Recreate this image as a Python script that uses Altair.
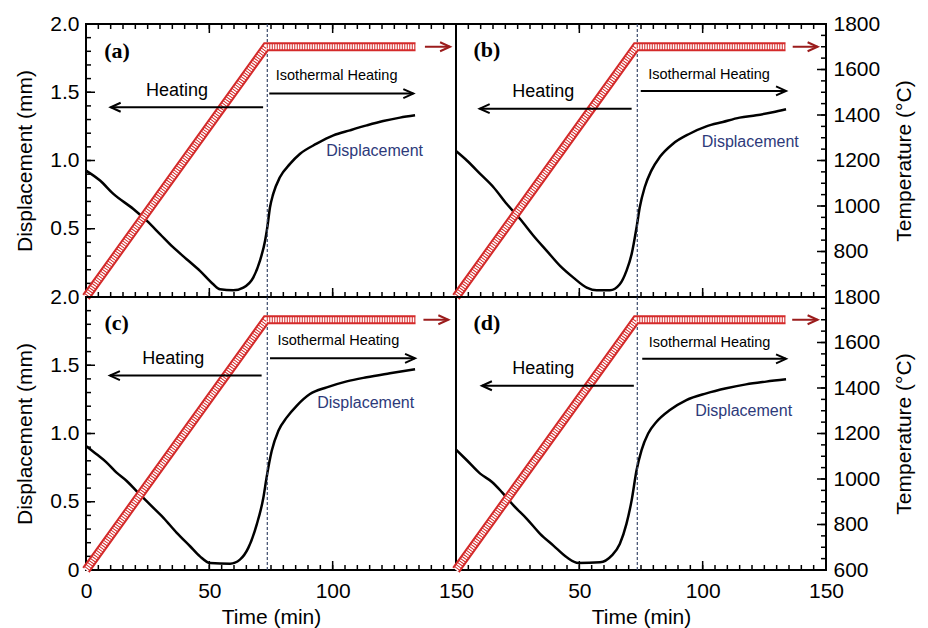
import altair as alt
import pandas as pd

# ---------------- data ----------------
# displacement curves: time (min) / displacement (mm)
TIME_A = [0, 5.7, 11.1, 19.2, 24.6, 30.0, 35.4, 40.8, 46.2, 51.6, 54.3, 59.7, 63.8, 67.8, 70.5,
          72.6, 73.5, 74.6, 75.9, 78.6, 82.7, 86.8, 93.5, 100.3, 107.0, 113.8, 120.5, 127.3, 133.4]
DISP_A = [0.926, 0.853, 0.755, 0.645, 0.559, 0.461, 0.363, 0.277, 0.191, 0.093, 0.056, 0.049, 0.069,
          0.142, 0.265, 0.412, 0.510, 0.657, 0.755, 0.877, 0.975, 1.049, 1.123, 1.184, 1.221, 1.257,
          1.289, 1.314, 1.331]

TIME_B = [0, 4.4, 9.8, 15.2, 20.6, 26.0, 31.4, 36.8, 42.2, 47.6, 53.0, 57.0, 62.4, 66.4, 69.1, 71.2,
          73.2, 74.5, 76.5, 79.2, 82.6, 88.0, 94.7, 101.5, 108.2, 115.0, 121.7, 128.4, 133.8]
DISP_B = [1.069, 1.0, 0.902, 0.804, 0.681, 0.571, 0.449, 0.338, 0.228, 0.142, 0.069, 0.049, 0.049,
          0.093, 0.191, 0.314, 0.510, 0.657, 0.804, 0.926, 1.025, 1.123, 1.196, 1.250, 1.282, 1.314,
          1.331, 1.353, 1.375]

TIME_C = [0, 4.3, 8.4, 12.4, 16.5, 20.5, 25.9, 31.4, 36.8, 42.2, 46.2, 50.3, 58.4, 62.4, 65.8, 69.2,
          71.9, 73.2, 75.3, 78.0, 81.4, 85.4, 90.8, 97.6, 105.7, 113.8, 123.2, 133.4]
DISP_C = [0.909, 0.848, 0.787, 0.713, 0.652, 0.578, 0.480, 0.382, 0.272, 0.174, 0.100, 0.051, 0.046,
          0.076, 0.162, 0.333, 0.529, 0.676, 0.873, 1.020, 1.118, 1.203, 1.289, 1.338, 1.382, 1.412,
          1.441, 1.471]

TIME_D = [0, 4.4, 9.8, 14.6, 18.6, 23.3, 28.7, 34.1, 39.5, 44.9, 49.6, 58.4, 63.1, 66.4, 69.1, 71.2,
          73.2, 75.2, 77.9, 81.3, 86.7, 93.4, 101.5, 109.6, 117.6, 125.7, 133.8]
DISP_D = [0.882, 0.804, 0.706, 0.645, 0.571, 0.473, 0.375, 0.265, 0.179, 0.093, 0.051, 0.056, 0.105,
          0.191, 0.338, 0.510, 0.730, 0.877, 1.000, 1.086, 1.172, 1.245, 1.294, 1.331, 1.360, 1.380,
          1.397]

# temperature programme: time (min) / temperature (degC)
TEMP_TIME = [0, 73.0, 133.6]
TEMP_VALUE = [600, 1700, 1700]
HOLD_START = 73.5

TIMES = [TIME_A, TIME_B, TIME_C, TIME_D]
DISPS = [DISP_A, DISP_B, DISP_C, DISP_D]
TAGS = ["(a)", "(b)", "(c)", "(d)"]

# annotation anchors (data coordinates) per panel a, b, c, d
TAG_T = [12.6, 12.5, 12.4, 12.5]
TAG_D = [1.80, 1.81, 1.81, 1.81]
HEAT_T = [36.9, 35.4, 35.4, 35.4]
HEAT_D = [1.51, 1.50, 1.547, 1.473]
ISO_T = [101.6, 102.6, 102.3, 102.8]
ISO_D = [1.62, 1.625, 1.68, 1.66]
DTXT_T = [117.0, 119.3, 113.4, 116.6]
DTXT_D = [1.07, 1.135, 1.22, 1.167]
HEAT_ARROW_FROM = [71.8, 71.2, 71.2, 72.1]
HEAT_ARROW_TO = [10.0, 9.6, 9.7, 10.5]
HEAT_ARROW_D = [1.39, 1.38, 1.424, 1.35]
ISO_ARROW_FROM = [74.3, 74.9, 74.6, 75.5]
ISO_ARROW_TO = [132.7, 133.8, 133.4, 133.8]
ISO_ARROW_D = [1.49, 1.51, 1.551, 1.547]
RED_ARROW_FROM = [137.4, 136.5, 136.8, 136.3]
RED_ARROW_TO = [147.6, 146.6, 146.9, 146.6]

X_MAJOR = [0, 50, 100, 150]
X_MINOR = list(range(0, 151, 5))
D_MAJOR = [0, 0.5, 1.0, 1.5, 2.0]
D_MINOR = [i / 10 for i in range(0, 21)]
T_MAJOR = [600, 800, 1000, 1200, 1400, 1600, 1800]
T_MINOR = list(range(600, 1801, 50))

# ---------------- styling ----------------
W, H = 370, 273
FONT = "Liberation Sans"
RED = "#d42a2a"
DARK_RED = "#9b1c1c"
NAVY = "#2d3a7a"
DASH = "#3b4a6b"
MAJ, MIN = 9, 5
LABEL_SIZE = 21
TITLE_SIZE = 21


def xs():
    return alt.Scale(domain=[0, 150], nice=False, zero=False)


def ds():
    return alt.Scale(domain=[0, 2], nice=False, zero=False)


def ts():
    return alt.Scale(domain=[600, 1800], nice=False, zero=False)


def x_ticks(values, size, side):
    """Inward tick marks along the bottom or top edge."""
    df = pd.DataFrame({"t": values})
    if side == "bottom":
        y1, y2 = alt.value(H - size), alt.value(H)
    else:
        y1, y2 = alt.value(0), alt.value(size)
    return alt.Chart(df).mark_rule(color="black", strokeWidth=1.5).encode(
        x=alt.X("t:Q", scale=xs(), axis=None), y=y1, y2=y2)


def y_ticks(values, size, side, scale):
    """Inward tick marks along the left or right edge."""
    df = pd.DataFrame({"v": values})
    if side == "left":
        x1, x2 = alt.value(0), alt.value(size)
    else:
        x1, x2 = alt.value(W - size), alt.value(W)
    return alt.Chart(df).mark_rule(color="black", strokeWidth=1.5).encode(
        y=alt.Y("v:Q", scale=scale, axis=None), x=x1, x2=x2)


def panel(i, left, top):
    df = pd.DataFrame({"t": TIMES[i], "d": DISPS[i]})
    tdf = pd.DataFrame({"t": TEMP_TIME, "v": TEMP_VALUE})

    if top:
        x_main = None
    else:
        vals = X_MAJOR if left else X_MAJOR[1:]
        x_main = alt.Axis(orient="bottom", values=vals, ticks=False, domain=False, grid=False,
                          labelFlush=False, labelFontSize=LABEL_SIZE, labelFont=FONT,
                          labelPadding=10, labelExpr="format(datum.value, 'd')",
                          title="Time (min)", titleFont=FONT, titleFontSize=TITLE_SIZE,
                          titleFontWeight="normal", titlePadding=5)
    if left:
        vals = D_MAJOR if not top else D_MAJOR[1:]
        y_main = alt.Axis(orient="left", values=vals, ticks=False, domain=False, grid=False,
                          labelExpr="datum.value == 0 ? '0' : format(datum.value, '.1f')",
                          labelFontSize=LABEL_SIZE, labelFont=FONT, labelPadding=7,
                          title="Displacement (mm)", titleFont=FONT, titleFontSize=TITLE_SIZE,
                          titleFontWeight="normal", titlePadding=14)
    else:
        y_main = None

    curve = alt.Chart(df).mark_line(color="black", strokeWidth=2.5, interpolate="monotone").encode(
        x=alt.X("t:Q", scale=xs(), axis=x_main),
        y=alt.Y("d:Q", scale=ds(), axis=y_main),
    )

    if not left:
        y_right = alt.Axis(orient="right", values=(T_MAJOR if not top else T_MAJOR[1:]),
                           ticks=False, domain=False, grid=False, labelFontSize=LABEL_SIZE,
                           labelFont=FONT, labelPadding=7, labelExpr="format(datum.value, 'd')",
                           title="Temperature (°C)",
                           titleFont=FONT, titleFontSize=TITLE_SIZE, titleFontWeight="normal",
                           titleAngle=270, titleBaseline="top", titlePadding=14)
    else:
        y_right = None

    temp_red = alt.Chart(tdf).mark_line(color=RED, strokeWidth=9, strokeJoin="miter").encode(
        x=alt.X("t:Q", scale=xs(), axis=None),
        y=alt.Y("v:Q", scale=ts(), axis=y_right),
    )
    temp_white = alt.Chart(tdf).mark_line(color="white", strokeWidth=5, strokeDash=[1.5, 1],
                                          strokeJoin="miter").encode(
        x=alt.X("t:Q", scale=xs(), axis=None),
        y=alt.Y("v:Q", scale=ts(), axis=None),
    )

    ticks = [x_ticks(X_MAJOR, MAJ, "bottom"), x_ticks(X_MINOR, MIN, "bottom")]
    if top:
        ticks += [x_ticks(X_MAJOR, MAJ, "top"), x_ticks(X_MINOR, MIN, "top")]
    if left:
        ticks += [y_ticks(D_MAJOR, MAJ, "left", ds()), y_ticks(D_MINOR, MIN, "left", ds())]
    else:
        ticks += [y_ticks(T_MAJOR, MAJ, "right", ts()), y_ticks(T_MINOR, MIN, "right", ts())]

    vline = alt.Chart(pd.DataFrame({"t": [HOLD_START]})).mark_rule(
        color=DASH, strokeDash=[3, 2], strokeWidth=1.2).encode(
        x=alt.X("t:Q", scale=xs(), axis=None))

    def txt(t, d, s, **kw):
        return alt.Chart(pd.DataFrame({"t": [t], "d": [d], "s": [s]})).mark_text(**kw).encode(
            x=alt.X("t:Q", scale=xs(), axis=None),
            y=alt.Y("d:Q", scale=ds(), axis=None),
            text="s:N")

    tag = txt(TAG_T[i], TAG_D[i], TAGS[i], font="Liberation Serif", fontSize=22,
              fontWeight="bold", color="black")
    heat = txt(HEAT_T[i], HEAT_D[i], "Heating", font=FONT, fontSize=18, color="black")
    iso = txt(ISO_T[i], ISO_D[i], "Isothermal Heating", font=FONT, fontSize=14.5, color="black")
    dtx = txt(DTXT_T[i], DTXT_D[i], "Displacement", font=FONT, fontSize=16, color=NAVY)

    arrows = pd.DataFrame({
        "x1": [HEAT_ARROW_FROM[i], ISO_ARROW_FROM[i]],
        "x2": [HEAT_ARROW_TO[i], ISO_ARROW_TO[i]],
        "d": [HEAT_ARROW_D[i], ISO_ARROW_D[i]],
    })
    shafts = alt.Chart(arrows).mark_rule(color="black", strokeWidth=2).encode(
        x=alt.X("x1:Q", scale=xs(), axis=None), x2="x2:Q",
        y=alt.Y("d:Q", scale=ds(), axis=None))
    head_l = alt.Chart(arrows.iloc[[0]]).mark_point(
        shape="M2,-0.9L0,0L2,0.9", size=100, filled=False, color="black", strokeWidth=2,
        opacity=1).encode(
        x=alt.X("x2:Q", scale=xs(), axis=None), y=alt.Y("d:Q", scale=ds(), axis=None))
    head_r = alt.Chart(arrows.iloc[[1]]).mark_point(
        shape="M-2,-0.9L0,0L-2,0.9", size=100, filled=False, color="black", strokeWidth=2,
        opacity=1).encode(
        x=alt.X("x2:Q", scale=xs(), axis=None), y=alt.Y("d:Q", scale=ds(), axis=None))

    red = pd.DataFrame({"x1": [RED_ARROW_FROM[i]], "x2": [RED_ARROW_TO[i]], "v": [TEMP_VALUE[-1]]})
    red_shaft = alt.Chart(red).mark_rule(color=DARK_RED, strokeWidth=2).encode(
        x=alt.X("x1:Q", scale=xs(), axis=None), x2="x2:Q",
        y=alt.Y("v:Q", scale=ts(), axis=None))
    red_head = alt.Chart(red).mark_point(
        shape="M-2,-0.9L0,0L-2,0.9", size=100, filled=False, color=DARK_RED, strokeWidth=2,
        opacity=1).encode(
        x=alt.X("x2:Q", scale=xs(), axis=None), y=alt.Y("v:Q", scale=ts(), axis=None))

    return alt.layer(
        curve, *ticks, vline, temp_red, temp_white,
        tag, heat, iso, dtx, shafts, head_l, head_r, red_shaft, red_head,
    ).resolve_scale(x="independent", y="independent").properties(width=W, height=H)


pa = panel(0, left=True, top=True)
pb = panel(1, left=False, top=True)
pc = panel(2, left=True, top=False)
pd_ = panel(3, left=False, top=False)

chart = alt.concat(pa, pb, pc, pd_, columns=2, spacing=0, bounds="flush").properties(
    padding={"left": 5, "top": 4, "right": 0, "bottom": 0}
).configure_view(stroke="black", strokeWidth=2)

chart.save("out.html", embed_options={"renderer": "svg", "actions": False})
